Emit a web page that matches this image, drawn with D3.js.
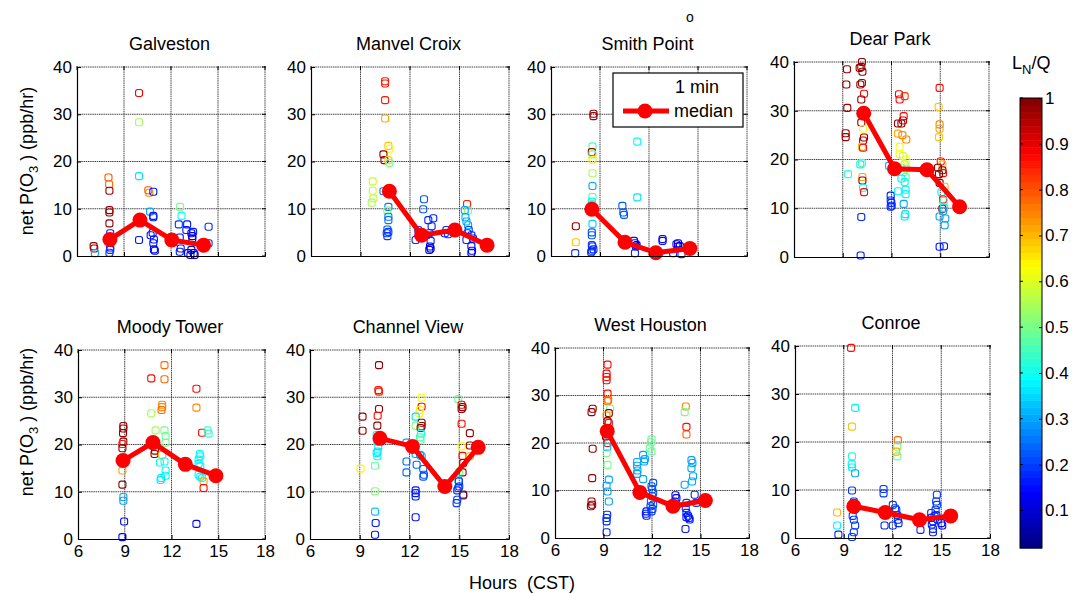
<!DOCTYPE html>
<html><head><meta charset="utf-8">
<script src="https://cdn.jsdelivr.net/npm/d3@7"></script>
<style>
body{margin:0;background:#fff}
svg{display:block}
text{font-family:"Liberation Sans",Arial,Helvetica,sans-serif;fill:#000}
</style>
</head><body>
<svg id="c" width="1072" height="593"></svg>
<script>
// ---- data: [hour, net P(O3) ppb/hr, LN/Q] ----
const galveston = [[7.06,2.1,0.98],[7.10,1.6,0.98],[7.14,0.6,0.3],[8.01,16.6,0.8],[8.05,15.2,0.77],[8.07,13.8,0.98],[8.07,9.7,0.98],[8.07,9.2,0.98],[8.07,6.9,0.98],[8.12,4.8,0.18],[8.07,3.5,0.75],[8.12,1.8,0.12],[8.12,1.3,0.2],[8.07,0.7,0.2],[9.96,34.5,0.88],[9.96,28.3,0.55],[9.96,16.9,0.36],[9.96,3.4,0.17],[10.55,13.9,0.8],[10.61,13.4,0.74],[10.87,13.6,0.17],[10.66,9.4,0.3],[10.87,8.5,0.17],[10.87,8.2,0.17],[10.83,4.9,0.17],[10.70,4.4,0.17],[10.91,3.5,0.17],[10.87,2.7,0.17],[10.91,1.4,0.15],[10.97,1.1,0.15],[12.58,10.4,0.5],[12.67,8.5,0.4],[12.5,6.7,0.2],[12.56,3.9,0.17],[12.62,1.6,0.17],[12.56,0.9,0.17],[13.03,6.7,0.17],[12.98,5.5,0.17],[13.3,4.8,0.12],[13.36,4.2,0.12],[13.41,5.1,0.17],[13.36,3.7,0.1],[13.09,0.6,0.1],[13.24,0.2,0.1],[13.45,0.6,0.1],[13.51,0.2,0.1],[13.3,1.3,0.1],[14.4,6.2,0.2],[14.4,2.7,0.2]];
const manvelCroix = [[10.49,37.0,0.86],[10.49,36.5,0.86],[10.49,33.0,0.86],[10.49,29.1,0.72],[10.69,23.3,0.68],[10.75,22.7,0.64],[10.39,21.5,0.98],[10.45,20.3,0.98],[10.69,20.3,0.67],[10.75,19.7,0.5],[9.74,15.8,0.58],[9.74,13.8,0.58],[9.78,12.2,0.58],[9.68,11.3,0.55],[10.39,13.7,0.25],[10.69,10.4,0.25],[10.63,9.6,0.5],[10.69,8.3,0.25],[10.69,7.6,0.25],[10.63,5.6,0.22],[10.69,5.1,0.2],[10.59,4.8,0.2],[10.63,4.2,0.2],[12.85,12.0,0.22],[12.8,9.9,0.22],[12.34,3.4,0.18],[12.5,5.5,0.18],[12.7,4.4,0.18],[13.11,7.6,0.18],[13.41,8.0,0.18],[13.31,6.3,0.18],[13.17,4.8,0.18],[13.25,3.2,0.18],[13.21,2.0,0.12],[13.17,1.3,0.12],[13.25,1.6,0.12],[13.0,4.4,0.18],[14.21,5.5,0.18],[14.31,4.6,0.18],[14.11,4.8,0.18],[15.46,11.0,0.86],[15.52,9.6,0.5],[15.32,9.7,0.3],[15.36,8.2,0.3],[15.42,7.3,0.3],[15.52,6.5,0.3],[15.56,5.5,0.2],[15.48,4.8,0.2],[15.42,3.4,0.18],[15.72,4.4,0.18],[15.82,3.7,0.18],[15.72,2.1,0.15],[15.76,1.1,0.15],[15.72,0.7,0.15]];
const smithPoint = [[8.6,30.1,0.98],[8.6,29.6,0.98],[8.54,23.2,0.46],[8.5,22.0,0.98],[8.54,21.5,0.5],[8.54,20.4,0.65],[8.54,17.5,0.55],[8.54,14.8,0.3],[8.54,12.5,0.45],[8.5,11.5,0.38],[8.5,10.8,0.38],[8.5,9.7,0.38],[8.54,6.8,0.35],[8.5,5.0,0.22],[8.5,4.4,0.22],[8.5,2.3,0.2],[8.54,2.0,0.2],[8.5,1.1,0.18],[8.46,0.8,0.18],[8.6,1.4,0.18],[7.52,6.3,0.98],[7.52,2.9,0.68],[7.48,0.6,0.2],[10.37,10.6,0.22],[10.43,9.2,0.22],[10.47,8.7,0.22],[11.28,24.2,0.4],[11.28,12.4,0.36],[11.08,3.2,0.15],[11.14,2.7,0.15],[11.2,2.0,0.15],[11.24,2.3,0.1],[11.14,0.6,0.18],[12.83,3.6,0.15],[12.83,3.2,0.15],[12.46,0.8,0.18],[13.68,2.5,0.12],[13.78,2.7,0.1],[13.78,2.0,0.1],[13.89,2.1,0.1],[13.48,0.6,0.18],[13.99,0.4,0.18]];
const dearPark = [[9.26,38.5,0.98],[9.22,35.4,0.98],[9.28,30.6,0.98],[9.18,25.4,0.98],[9.18,24.6,0.98],[9.32,17.0,0.42],[10.18,40.0,0.98],[10.14,39.0,0.98],[10.04,38.8,0.98],[10.21,38.0,0.98],[10.18,35.7,0.98],[10.08,35.4,0.98],[10.31,33.5,0.87],[10.14,32.3,0.98],[10.18,29.4,0.98],[10.14,27.6,0.98],[10.25,26.3,0.62],[10.31,24.5,0.98],[10.25,23.9,0.93],[10.18,22.6,0.7],[10.25,22.4,0.87],[10.08,19.0,0.38],[10.18,19.3,0.45],[10.21,16.4,0.72],[10.21,15.7,0.98],[10.25,14.2,0.38],[10.31,13.3,0.87],[10.14,8.2,0.18],[10.1,0.3,0.16],[11.85,18.7,0.32],[11.95,12.6,0.18],[11.95,11.6,0.18],[11.99,11.1,0.18],[11.95,10.3,0.18],[12.01,10.5,0.18],[12.46,33.4,0.87],[12.5,32.3,0.87],[12.81,33.0,0.82],[12.4,27.4,0.98],[12.61,27.4,0.98],[12.75,28.9,0.87],[12.71,28.0,0.93],[12.4,25.3,0.72],[12.67,25.0,0.75],[12.91,24.1,0.75],[12.5,22.6,0.62],[12.5,21.1,0.62],[12.71,20.7,0.58],[12.91,20.0,0.62],[12.81,19.0,0.56],[12.61,18.3,0.5],[12.91,18.1,0.5],[12.71,17.4,0.5],[12.87,16.4,0.48],[12.61,16.1,0.38],[12.81,15.4,0.38],[12.4,13.5,0.38],[12.87,13.8,0.38],[12.87,12.9,0.38],[12.75,10.9,0.3],[12.85,8.8,0.36],[12.81,8.3,0.36],[14.96,34.7,0.87],[14.9,30.8,0.68],[14.96,27.2,0.75],[14.96,26.3,0.72],[14.92,24.6,0.68],[15.03,19.6,0.85],[15.13,19.0,0.68],[14.86,18.3,0.98],[15.13,17.8,0.98],[15.17,17.2,0.87],[14.92,17.0,0.98],[14.96,15.2,0.98],[15.27,14.4,0.7],[15.07,13.3,0.38],[15.17,11.8,0.87],[15.21,11.5,0.45],[15.13,9.9,0.98],[15.23,10.1,0.38],[15.17,9.4,0.3],[14.96,8.3,0.3],[15.31,7.9,0.3],[15.27,6.5,0.28],[14.96,2.1,0.16],[15.23,2.2,0.16]];
const moodyTower = [[8.91,23.9,0.98],[8.91,23.4,0.98],[8.89,22.4,0.98],[8.91,20.6,0.98],[8.85,20.1,0.86],[8.85,19.2,0.98],[8.85,14.5,0.72],[8.85,11.5,0.98],[8.91,8.9,0.3],[8.91,8.1,0.3],[8.96,3.7,0.15],[8.85,0.4,0.15],[10.7,34.0,0.87],[11.55,36.8,0.77],[11.55,33.8,0.77],[11.4,28.4,0.75],[11.4,27.9,0.75],[11.36,27.3,0.77],[10.7,26.6,0.55],[10.98,23.0,0.55],[11.55,23.0,0.5],[11.62,21.8,0.48],[11.62,20.4,0.5],[10.91,18.0,0.98],[10.94,18.7,0.98],[11.4,17.8,0.7],[11.26,16.2,0.4],[11.55,16.4,0.4],[11.62,14.5,0.38],[11.62,13.4,0.38],[11.3,12.5,0.36],[11.34,12.9,0.36],[13.6,31.8,0.87],[13.6,27.8,0.75],[13.96,22.5,0.87],[14.32,23.0,0.45],[14.38,22.3,0.42],[13.81,18.0,0.38],[13.85,17.5,0.38],[13.74,16.8,0.38],[13.74,15.9,0.38],[13.85,15.4,0.38],[13.74,13.6,0.38],[13.85,13.2,0.38],[13.96,12.9,0.38],[14.06,12.2,0.72],[14.06,10.8,0.87],[13.6,3.2,0.15]];
const channelView = [[9.17,25.9,0.98],[9.17,22.9,0.98],[9.05,14.9,0.64],[10.16,36.8,0.98],[10.12,31.5,0.86],[10.16,31.2,0.86],[10.16,27.5,0.98],[10.08,26.1,0.87],[10.06,24.0,0.98],[10.02,22.0,0.38],[10.06,20.6,0.38],[10.12,19.6,0.36],[10.08,18.5,0.36],[10.02,18.2,0.36],[10.06,17.5,0.38],[9.92,15.5,0.48],[9.92,10.1,0.52],[9.92,5.8,0.34],[9.96,3.4,0.16],[9.92,0.9,0.16],[12.73,29.9,0.62],[12.73,28.0,0.87],[12.63,27.3,0.62],[12.59,26.6,0.64],[12.37,25.9,0.36],[12.73,24.6,0.98],[12.73,23.9,0.98],[12.37,24.0,0.52],[12.67,23.5,0.98],[12.69,22.3,0.4],[12.63,21.5,0.44],[12.67,21.0,0.48],[11.82,20.4,0.3],[12.37,18.0,0.3],[12.63,17.8,0.3],[12.73,17.5,0.3],[11.82,16.4,0.24],[11.82,14.1,0.24],[12.43,15.7,0.24],[12.83,14.8,0.22],[12.87,13.6,0.22],[12.83,13.2,0.22],[12.37,10.3,0.16],[12.37,9.7,0.16],[12.37,9.0,0.16],[12.37,4.6,0.16],[14.94,29.6,0.48],[15.14,28.4,0.87],[15.2,27.9,0.98],[15.14,27.5,0.98],[15.14,24.4,0.87],[15.64,22.4,0.98],[15.14,19.6,0.62],[15.64,19.8,0.98],[15.2,17.6,0.87],[15.64,17.5,0.72],[15.24,16.1,0.98],[15.2,14.1,0.98],[15.0,14.3,0.5],[14.94,12.5,0.36],[14.98,12.2,0.2],[14.94,10.8,0.2],[14.88,10.3,0.2],[15.0,11.1,0.2],[15.24,9.2,0.2],[15.24,9.4,0.98],[14.88,8.3,0.2],[14.84,7.6,0.2]];
const westHouston = [[8.33,27.2,0.98],[8.26,26.5,0.98],[8.33,18.8,0.98],[8.3,12.6,0.98],[8.26,7.7,0.98],[8.3,7.0,0.98],[8.22,6.7,0.98],[9.25,36.5,0.87],[9.19,34.6,0.87],[9.19,33.9,0.87],[9.19,33.2,0.87],[9.25,30.4,0.87],[9.29,29.1,0.77],[9.25,28.8,0.77],[9.4,27.2,0.52],[9.33,26.3,0.98],[9.19,25.8,0.74],[9.25,24.6,0.98],[9.33,24.2,0.87],[9.09,22.5,0.98],[9.15,21.4,0.98],[9.29,20.7,0.38],[9.25,20.0,0.87],[9.23,19.1,0.32],[9.19,17.9,0.5],[9.25,15.4,0.5],[9.33,12.3,0.3],[9.19,11.0,0.3],[9.25,9.8,0.3],[9.33,7.7,0.3],[9.23,4.9,0.18],[9.19,4.2,0.18],[9.19,3.5,0.18],[9.19,1.2,0.18],[11.45,17.5,0.3],[11.56,16.6,0.3],[11.51,16.1,0.3],[11.08,16.0,0.3],[11.08,15.2,0.3],[11.1,14.2,0.3],[11.08,13.5,0.3],[11.45,12.4,0.3],[11.66,5.6,0.16],[11.62,5.1,0.16],[11.66,4.7,0.16],[11.97,20.8,0.48],[11.93,20.1,0.48],[11.86,18.9,0.48],[11.97,18.2,0.48],[12.07,11.6,0.22],[11.97,10.9,0.22],[12.01,10.3,0.22],[12.07,9.5,0.22],[12.01,8.8,0.22],[11.93,7.7,0.22],[12.07,7.0,0.22],[11.91,6.7,0.2],[12.03,6.1,0.2],[11.97,5.6,0.2],[13.45,9.0,0.12],[13.51,8.4,0.12],[13.41,7.7,0.18],[13.51,7.0,0.18],[14.09,27.7,0.75],[14.02,26.5,0.5],[14.13,23.4,0.87],[14.13,21.8,0.77],[14.02,11.2,0.3],[14.13,7.4,0.2],[14.09,6.3,0.2],[14.13,5.3,0.18],[14.23,4.7,0.16],[14.29,4.2,0.16],[14.33,3.9,0.16],[14.13,4.4,0.16],[14.07,1.9,0.16],[14.44,16.4,0.3],[14.5,15.8,0.3],[14.44,14.7,0.3],[14.54,13.0,0.3],[14.48,11.9,0.3],[14.64,9.1,0.2],[14.74,7.4,0.2]];
const conroe = [[8.59,5.3,0.7],[8.59,2.6,0.38],[8.67,0.7,0.18],[9.45,39.6,0.87],[9.7,27.1,0.38],[9.51,23.2,0.68],[9.51,17.0,0.42],[9.49,15.4,0.38],[9.51,14.7,0.38],[9.7,13.5,0.3],[9.51,9.9,0.2],[9.62,7.6,0.2],[9.55,6.9,0.2],[9.66,5.9,0.2],[9.55,4.6,0.2],[9.62,3.8,0.2],[9.7,2.6,0.2],[9.62,1.2,0.2],[9.51,0.2,0.2],[11.45,10.2,0.2],[11.45,9.3,0.2],[11.51,2.6,0.18],[12.02,6.9,0.2],[12.16,6.2,0.2],[12.23,5.9,0.2],[12.29,4.8,0.2],[12.02,2.6,0.18],[12.33,3.8,0.18],[12.37,3.1,0.18],[12.33,20.4,0.77],[12.29,19.0,0.5],[12.23,18.0,0.72],[12.29,17.0,0.5],[13.72,1.7,0.18],[13.56,3.3,0.18],[14.73,9.0,0.2],[14.69,7.6,0.2],[14.73,6.9,0.2],[14.65,5.9,0.2],[14.69,4.8,0.2],[14.38,5.2,0.18],[14.38,4.2,0.18],[14.49,3.5,0.18],[14.42,2.8,0.18],[14.49,1.9,0.18],[14.49,1.2,0.18],[15.0,3.1,0.15],[15.06,2.6,0.15],[14.79,3.8,0.18],[14.59,4.6,0.18]];

// medians: [hour, value]
const galvestonMedian = [[8.1,3.5],[10.02,7.6],[12.05,3.4],[14.08,2.3]];
const manvelCroixMedian = [[10.75,13.7],[12.7,4.4],[14.72,5.5],[16.67,2.3]];
const smithPointMedian = [[8.5,9.9],[10.53,2.9],[12.42,0.7],[14.5,1.6]];
const dearParkMedian = [[10.29,29.5],[12.19,18.1],[14.18,17.9],[16.19,10.3]];
const moodyTowerMedian = [[8.89,16.6],[10.81,20.4],[12.89,15.8],[14.85,13.4]];
const channelViewMedian = [[10.22,21.3],[12.18,19.6],[14.13,11.1],[16.14,19.4]];
const westHoustonMedian = [[9.23,22.5],[11.25,9.6],[13.3,6.7],[15.3,7.9]];
const conroeMedian = [[9.62,6.6],[11.55,5.3],[13.66,3.8],[15.58,4.6]];

const stations = ["Galveston","Manvel Croix","Smith Point","Dear Park","Moody Tower","Channel View","West Houston","Conroe"];
const xTicks = [6,9,12,15,18];
const yTicks = [0,10,20,30,40];
const cbTicks = [0.1,0.2,0.3,0.4,0.5,0.6,0.7,0.8,0.9,1];
const cbRange = [0.018, 1];
const legendLabels = ["1 min","median"];

const pointSets = [galveston,manvelCroix,smithPoint,dearPark,moodyTower,channelView,westHouston,conroe];
const medianSets = [galvestonMedian,manvelCroixMedian,smithPointMedian,dearParkMedian,moodyTowerMedian,channelViewMedian,westHoustonMedian,conroeMedian];

// ---- layout ----
const boxes = [
  {l:77,r:265,t:67,b:256},{l:311,r:509,t:67,b:256},{l:551,r:747,t:67,b:256},{l:794,r:989,t:62,b:257},
  {l:78,r:265,t:350,b:539},{l:310,r:509,t:350,b:539},{l:555,r:749,t:348,b:538},{l:795,r:990,t:346,b:538}
];

function jet(t){
  t = Math.max(0, Math.min(1, t));
  const q = Math.min(63, Math.floor(t*64));
  const u = (q + 0.5)/64;
  const c = v => Math.max(0, Math.min(1, v));
  return d3.rgb(255*c(Math.min(4*u-1.5, -4*u+4.5)), 255*c(Math.min(4*u-0.5, -4*u+3.5)), 255*c(Math.min(4*u+0.5, -4*u+2.5))).formatHex();
}
const cNorm = d3.scaleLinear().domain(cbRange).range([0,1]);
const colorOf = v => jet(cNorm(v));

const svg = d3.select("#c");
const FS = 17;

boxes.forEach((B, i) => {
  const x = d3.scaleLinear().domain([6,18]).range([B.l, B.r]);
  const y = d3.scaleLinear().domain([0,40]).range([B.b, B.t]);
  const g = svg.append("g");
  // grid
  g.selectAll("line.gx").data(xTicks.slice(1)).enter().append("line")
    .attr("x1", d=>x(d)).attr("x2", d=>x(d)).attr("y1", B.t).attr("y2", B.b)
    .attr("stroke","#444").attr("stroke-width",1).attr("stroke-dasharray","1.5,0.7");
  g.selectAll("line.gy").data(yTicks.slice(1)).enter().append("line")
    .attr("x1", B.l).attr("x2", B.r).attr("y1", d=>y(d)).attr("y2", d=>y(d))
    .attr("stroke","#444").attr("stroke-width",1).attr("stroke-dasharray","1.5,0.7");
  // right & top small ticks
  g.selectAll("line.rt").data(yTicks).enter().append("line")
    .attr("x1", B.r-3).attr("x2", B.r+1).attr("y1", d=>y(d)).attr("y2", d=>y(d)).attr("stroke","#000");
  g.selectAll("line.tt").data(xTicks).enter().append("line")
    .attr("x1", d=>x(d)).attr("x2", d=>x(d)).attr("y1", B.t-1).attr("y2", B.t+3).attr("stroke","#000");
  // points
  g.selectAll("rect.p").data(pointSets[i]).enter().append("rect")
    .attr("x", d=>x(d[0])-3.5).attr("y", d=>y(d[1])-3.5).attr("width",7).attr("height",7).attr("rx",2.2)
    .attr("fill","none").attr("stroke", d=>colorOf(d[2])).attr("stroke-width",1.1);
  // median
  g.append("path").datum(medianSets[i])
    .attr("d", d3.line().x(d=>x(d[0])).y(d=>y(d[1])))
    .attr("fill","none").attr("stroke","#ff0000").attr("stroke-width",5).attr("stroke-linejoin","round");
  g.selectAll("circle.m").data(medianSets[i]).enter().append("circle")
    .attr("cx", d=>x(d[0])).attr("cy", d=>y(d[1])).attr("r",7.5).attr("fill","#ff0000");
  // axes
  const ya = g.append("g").attr("transform",`translate(${B.l},0)`)
    .call(d3.axisLeft(y).tickValues(yTicks).tickSizeInner(-4).tickSizeOuter(0).tickPadding(5));
  const xa = g.append("g").attr("transform",`translate(0,${B.b})`)
    .call(d3.axisBottom(x).tickValues(xTicks).tickSizeInner(-4).tickSizeOuter(0).tickPadding(6)
      .tickFormat(i >= 4 ? d3.format("d") : () => ""));
  [ya, xa].forEach(a => {
    a.selectAll("text").attr("font-size", FS).attr("font-family",'"Liberation Sans",Arial,sans-serif').attr("fill","#000");
    a.select(".domain").attr("stroke","#000").attr("stroke-width",1.2);
    a.selectAll(".tick line").attr("stroke","#000");
  });
  // title
  g.append("text").attr("x", (B.l+B.r)/2 - 1.5).attr("y", B.t - 17)
    .attr("text-anchor","middle").attr("font-size",18).text(stations[i]);
});

// y labels
[161, 422].forEach(cy => {
  const t = svg.append("text").attr("transform",`translate(33,${cy}) rotate(-90)`)
    .attr("text-anchor","middle").attr("font-size",18);
  t.append("tspan").text("net P(O");
  t.append("tspan").attr("font-size",13).attr("dy",5).text("3");
  t.append("tspan").attr("dy",-5).text(" ) (ppb/hr)");
});

// x label
svg.append("text").attr("x",522).attr("y",589).attr("text-anchor","middle")
  .attr("font-size",18).style("white-space","pre").text("Hours  (CST)");

// stray marker text above Smith Point
svg.append("text").attr("x",690).attr("y",22).attr("text-anchor","middle").attr("font-size",14).text("o");

// legend
const lg = svg.append("g");
lg.append("rect").attr("x",613).attr("y",73).attr("width",130).attr("height",54)
  .attr("fill","#fff").attr("stroke","#000").attr("stroke-width",1.2);
lg.append("text").attr("x",675).attr("y",92.5).attr("font-size",18).text(legendLabels[0]);
lg.append("text").attr("x",674).attr("y",116.5).attr("font-size",18).text(legendLabels[1]);
lg.append("line").attr("x1",623).attr("x2",669).attr("y1",111).attr("y2",111).attr("stroke","#ff0000").attr("stroke-width",5);
lg.append("circle").attr("cx",645).attr("cy",111).attr("r",7.5).attr("fill","#ff0000");

// colorbar
const cbX = 1020, cbW = 22, cbTop = 98, cbBot = 548;
const cy = d3.scaleLinear().domain(cbRange).range([cbBot, cbTop]);
const nC = 64;
const cb = svg.append("g");
d3.range(nC).forEach(k => {
  const v0 = cbRange[0] + (cbRange[1]-cbRange[0])*k/nC;
  const v1 = cbRange[0] + (cbRange[1]-cbRange[0])*(k+1)/nC;
  cb.append("rect").attr("x",cbX).attr("width",cbW).attr("y",cy(v1)).attr("height",cy(v0)-cy(v1)+0.5)
    .attr("fill", jet((k+0.5)/nC));
});
cb.append("rect").attr("x",cbX).attr("y",cbTop).attr("width",cbW).attr("height",cbBot-cbTop)
  .attr("fill","none").attr("stroke","#000").attr("stroke-width",1);
const cba = cb.append("g").attr("transform",`translate(${cbX+cbW},0)`)
  .call(d3.axisRight(cy).tickValues(cbTicks).tickSizeInner(-3).tickSizeOuter(0).tickPadding(3)
    .tickFormat(d => d === 1 ? "1" : d3.format(".1f")(d)));
cba.select(".domain").remove();
cba.selectAll("text").attr("font-size",FS).attr("font-family",'"Liberation Sans",Arial,sans-serif').attr("fill","#000");
cba.selectAll(".tick line").attr("stroke","#000");
cb.selectAll("line.lt").data(cbTicks).enter().append("line")
  .attr("x1",cbX).attr("x2",cbX+3).attr("y1",d=>cy(d)).attr("y2",d=>cy(d)).attr("stroke","#000");

const lt = svg.append("text").attr("x",1012).attr("y",69).attr("font-size",18);
lt.append("tspan").text("L");
lt.append("tspan").attr("font-size",13).attr("dy",5).text("N");
lt.append("tspan").attr("dy",-5).text("/Q");
</script>
</body></html>
